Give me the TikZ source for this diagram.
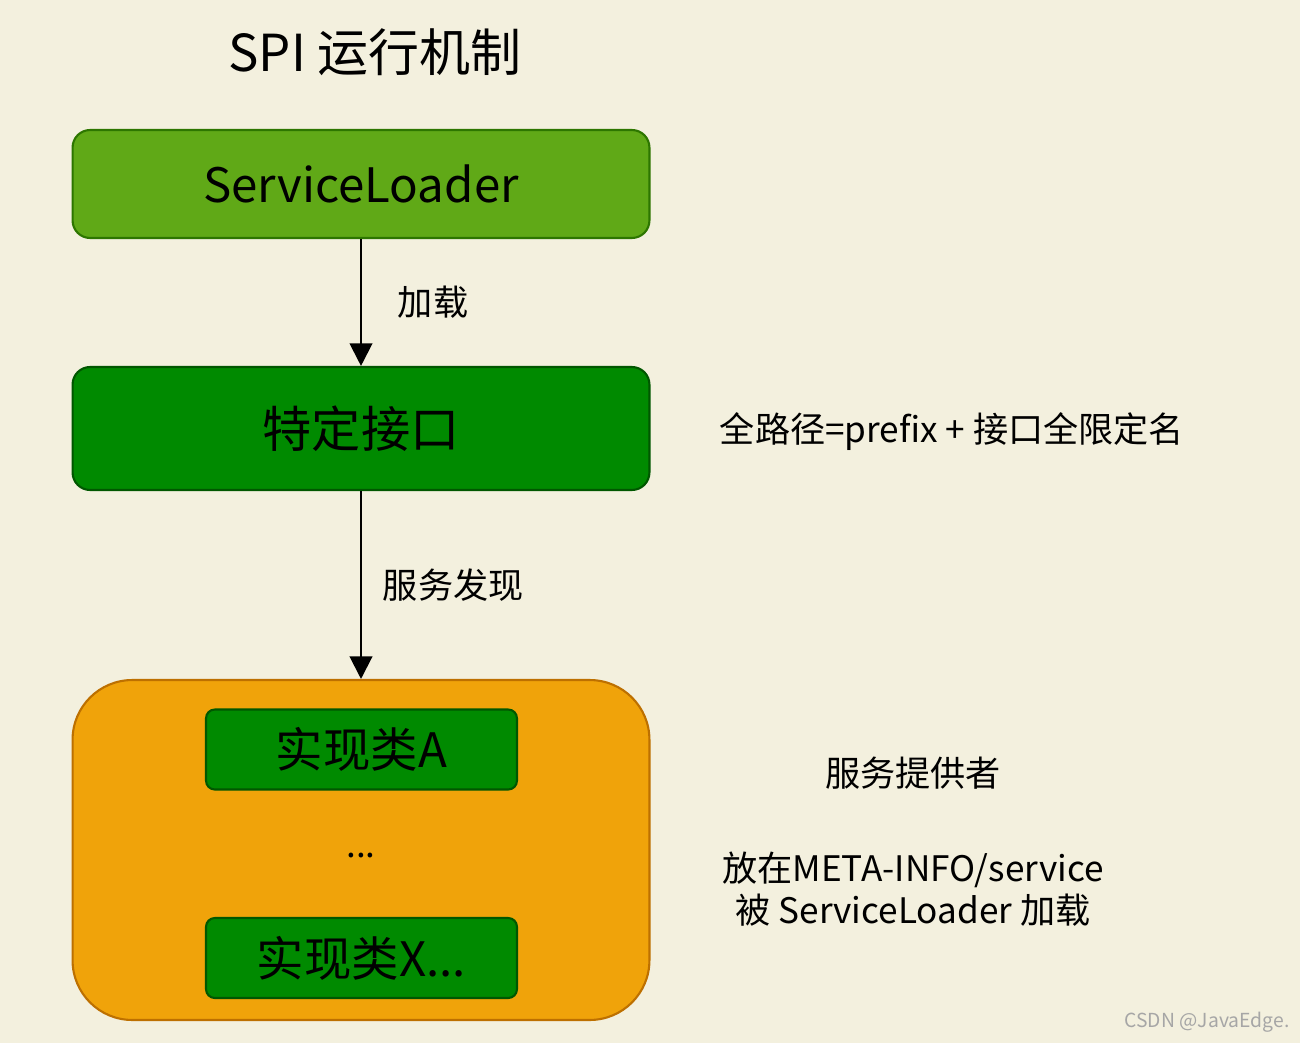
\documentclass[tikz,border=0pt]{standalone}
\usepackage{fontspec}
\setmainfont{Noto Sans CJK SC}
\usetikzlibrary{arrows.meta, positioning}
\definecolor{bgcream}{RGB}{243,240,222}
\definecolor{loadergreen}{RGB}{96,169,23}
\definecolor{loaderedge}{RGB}{45,118,0}
\definecolor{ifacegreen}{RGB}{0,138,0}
\definecolor{ifaceedge}{RGB}{0,87,0}
\definecolor{provorange}{RGB}{240,163,10}
\definecolor{provedge}{RGB}{189,112,0}

\begin{document}
\begin{tikzpicture}[x=0.02cm, y=-0.02cm,
    every node/.style={font=\fontsize{20pt}{24pt}\selectfont},
    loader/.style={rectangle, rounded corners=10pt, draw=loaderedge, fill=loadergreen, line width=1.2pt, minimum width=11.54cm, minimum height=2.16cm, font=\fontsize{27pt}{30pt}\selectfont},
    iface/.style={rectangle, rounded corners=10pt, draw=ifaceedge, fill=ifacegreen, line width=1.2pt, minimum width=11.54cm, minimum height=2.46cm, font=\fontsize{28pt}{30pt}\selectfont},
    provider/.style={rectangle, rounded corners=34pt, draw=provedge, fill=provorange, line width=1.2pt, minimum width=11.54cm, minimum height=6.8cm},
    impl/.style={rectangle, rounded corners=5pt, draw=ifaceedge, fill=ifacegreen, line width=1.2pt, minimum width=6.22cm, minimum height=1.6cm, font=\fontsize{27pt}{30pt}\selectfont},
    arrow/.style={line width=1.2pt, -{Triangle[length=4.5mm,width=4.5mm]}},
    note/.style={align=center}
]

\fill[bgcream] (0,0) rectangle (1300,1043);

% Title
\node (title) at (375,52) {\fontsize{29pt}{32pt}\selectfont SPI 运行机制};

% Main column
\node[loader] (loader) at (361,184) {ServiceLoader};
\node[iface] (iface) at (361,428.5) {特定接口};
\node[provider] (prov) at (361,850) {};
\node[impl] (implA) at (361.5,749.5) {实现类A};
\node (dots) at (361,856) {\fontsize{20pt}{24pt}\selectfont ...};
\node[impl] (implX) at (361.5,958) {实现类X...};

% Arrows
\draw[arrow] (loader) -- (iface) node[midway, right=0.6cm] {加载};
\draw[arrow] (iface) -- (prov) node[midway, right=0.3cm] {服务发现};

% Side notes
\node (path) at (952,432) {全路径=prefix + 接口全限定名};
\node (role) at (913,773) {服务提供者};
\node[note] (where) at (913,889) {放在META-INFO/service\\被 ServiceLoader 加载};

\node[text=gray!70, font=\fontsize{11pt}{13pt}\selectfont] (mark) at (1207,1022) {CSDN @JavaEdge.};

\end{tikzpicture}
\end{document}
